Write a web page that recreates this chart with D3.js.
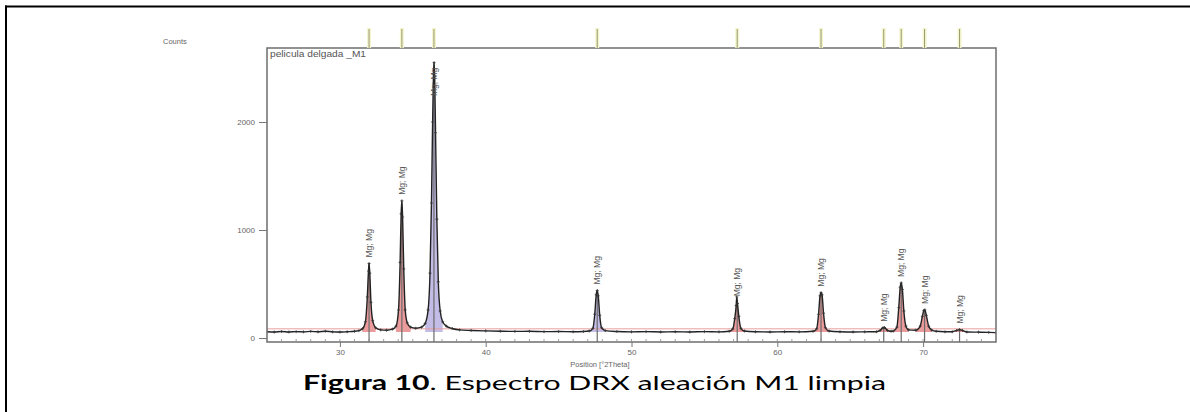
<!DOCTYPE html>
<html>
<head>
<meta charset="utf-8">
<script src="https://cdn.jsdelivr.net/npm/d3@7"></script>
<style>
  html, body { margin: 0; padding: 0; background: #fff; }
  svg { display: block; }
</style>
</head>
<body>
<svg id="chart" width="1190" height="412"></svg>
<script>
// ---------------- DATA ----------------
const profile = [
  [25.0,58],[25.5,55],[26.0,60],[26.5,56],[27.0,59],[27.5,57],[28.0,61],[28.5,58],[29.0,63],[29.5,57],
  [30.0,55],[30.5,58],[31.0,62],[31.3,68],[31.55,85],[31.75,150],[31.88,380],[31.96,620],[32.0,690],
  [32.05,600],[32.13,330],[32.25,160],[32.45,95],[32.8,75],[33.2,72],[33.6,82],[33.85,110],[34.02,260],
  [34.13,700],[34.2,1150],[34.25,1270],[34.3,1120],[34.38,640],[34.48,260],[34.62,140],[34.85,100],
  [35.2,90],[35.6,100],[35.85,135],[36.05,260],[36.18,600],[36.28,1250],[36.36,2000],[36.42,2450],
  [36.46,2550],[36.5,2420],[36.56,1900],[36.65,1100],[36.75,520],[36.88,250],[37.05,150],[37.3,110],
  [37.7,88],[38.2,75],[39.0,70],[40.0,66],[41.0,63],[42.0,61],[43.0,62],[44.0,59],[45.0,60],[46.0,58],
  [46.7,60],[47.1,65],[47.35,90],[47.48,220],[47.58,400],[47.65,440],[47.72,390],[47.82,210],[47.95,95],
  [48.2,68],[49.0,60],[50.0,57],[51.0,59],[52.0,56],[53.0,58],[54.0,56],[55.0,59],[56.0,57],[56.7,62],
  [56.95,85],[57.08,180],[57.18,300],[57.22,380],[57.27,320],[57.36,200],[57.5,90],[57.75,65],[58.5,58],
  [59.5,56],[60.5,58],[61.5,57],[62.45,62],[62.7,85],[62.83,220],[62.93,390],[63.0,420],[63.07,400],
  [63.17,230],[63.3,95],[63.55,65],[64.3,58],[65.2,56],[66.0,57],[66.8,58],[67.05,70],[67.25,95],
  [67.35,97],[67.55,70],[67.8,62],[67.95,64],[68.2,100],[68.33,280],[68.43,470],[68.5,510],[68.58,450],
  [68.68,250],[68.82,110],[69.0,75],[69.5,72],[69.8,110],[69.95,200],[70.05,255],[70.12,260],[70.22,210],
  [70.38,110],[70.6,72],[70.9,62],[71.5,58],[72.0,58],[72.3,70],[72.5,78],[72.7,70],[73.0,56],[73.8,54],
  [74.5,52],[75.0,50]
];
// Identified reflections
const peakPos    = [32.0, 34.25, 36.45, 47.65, 57.25, 63.0, 67.3, 68.5, 70.1, 72.5];
const peakHeight = [690, 1270, 2550, 440, 330, 420, 95, 510, 260, 78];
const peakLabel  = ["Mg; Mg","Mg; Mg","Mg; Mg","Mg; Mg","Mg; Mg","Mg; Mg","Mg; Mg","Mg; Mg","Mg; Mg","Mg; Mg"];
const peakPhase  = ["a","a","b","b","a","a","a","a","a","a"];
const backgroundLevel = 55;
const xTicks = [30, 40, 50, 60, 70];
const yTicks = [0, 1000, 2000];
const xDomain = [25, 75];
const yDomain = [-37, 2685];

// ---------------- LAYOUT ----------------
const svg = d3.select("#chart");
const L = 267, R = 996, T = 48, B = 342;
const x = d3.scaleLinear().domain(xDomain).range([L, R]);
const y = d3.scaleLinear().domain(yDomain).range([B, T]);
const txt = "#666";
const fontAx = "Arial, 'Liberation Sans', sans-serif";

// outer document frame (top and left visible)
svg.append("line").attr("x1", 5).attr("x2", 1190).attr("y1", 6.5).attr("y2", 6.5)
  .attr("stroke", "#000").attr("stroke-width", 2);
svg.append("line").attr("x1", 6).attr("x2", 6).attr("y1", 5.5).attr("y2", 412)
  .attr("stroke", "#000").attr("stroke-width", 2);

const clipId = "plotclip";
svg.append("defs").append("clipPath").attr("id", clipId)
  .append("rect").attr("x", L).attr("y", T).attr("width", R - L).attr("height", B - T);

const plot = svg.append("g").attr("clip-path", `url(#${clipId})`);

// peak fills
const phaseColor = d3.scaleOrdinal().domain(["a","b"]).range(["#e0585a", "#9a8fd6"]);
const area = d3.area().x(d => x(d[0])).y0(y(backgroundLevel)).y1(d => y(d[1])).curve(d3.curveMonotoneX);
peakPos.forEach((p, i) => {
  const lo = i > 0 ? (peakPos[i-1] + p) / 2 : p - 0.8;
  const hi = i < peakPos.length - 1 ? (peakPos[i+1] + p) / 2 : p + 0.8;
  const w = Math.min(0.6, p - lo, hi - p);
  const seg = profile.filter(d => d[0] >= p - w && d[0] <= p + w);
  plot.append("path").datum(seg).attr("d", area)
    .attr("fill", phaseColor(peakPhase[i])).attr("fill-opacity", 0.6).attr("stroke", "none");
});

// background line
plot.append("line").attr("x1", x(xDomain[0])).attr("x2", x(xDomain[1]))
  .attr("y1", y(backgroundLevel + 30)).attr("y2", y(backgroundLevel + 30))
  .attr("stroke", "#e6a0a0").attr("stroke-width", 1);

// reference sticks
plot.selectAll(".stick").data(peakPos).join("line").attr("class", "stick")
  .attr("x1", d => x(d)).attr("x2", d => x(d))
  .attr("y1", B).attr("y2", (d, i) => y(peakHeight[i]))
  .attr("stroke", "#6b6b6b").attr("stroke-width", 1.2);

// observed profile
const line = d3.line().x(d => x(d[0])).y(d => y(d[1])).curve(d3.curveMonotoneX);
plot.append("path").datum(profile).attr("d", line)
  .attr("fill", "none").attr("stroke", "#222").attr("stroke-width", 1.4);
plot.selectAll(".mk").data(profile).join("path").attr("class","mk")
  .attr("transform", d => `translate(${x(d[0])},${y(d[1])})`)
  .attr("d", "M-1.5,0H1.5M0,-1.5V1.5").attr("stroke", "#333").attr("stroke-width", 0.8);

// frame
svg.append("rect").attr("x", L).attr("y", T).attr("width", R - L).attr("height", B - T)
  .attr("fill", "none").attr("stroke", "#6e6e6e").attr("stroke-width", 1.5);

// x axis
const xAxis = d3.axisBottom(x).tickValues(xTicks).tickSize(5).tickPadding(2).tickFormat(d3.format("d"));
const gx = svg.append("g").attr("transform", `translate(0,${B})`).call(xAxis);
gx.select(".domain").remove();
gx.selectAll("line").attr("stroke", "#777");
gx.selectAll("text").attr("fill", txt).attr("font-size", 8).attr("font-family", fontAx);
const minorX = d3.range(xDomain[0] + 1, xDomain[1], 1);
svg.append("g").selectAll("line").data(minorX).join("line")
  .attr("x1", d => x(d)).attr("x2", d => x(d)).attr("y1", B).attr("y2", B - 3)
  .attr("stroke", "#888").attr("stroke-width", 0.8);

// y axis
const yAxis = d3.axisLeft(y).tickValues(yTicks).tickSize(8).tickPadding(4).tickFormat(d3.format("d"));
const gy = svg.append("g").attr("transform", `translate(${L},0)`).call(yAxis);
gy.select(".domain").remove();
gy.selectAll("line").attr("stroke", "#777");
gy.selectAll("text").attr("fill", txt).attr("font-size", 8).attr("font-family", fontAx);

// top reflection markers
const tm = svg.append("g");
tm.selectAll(".glow").data(peakPos).join("line").attr("class","glow")
  .attr("x1", d => x(d)).attr("x2", d => x(d)).attr("y1", 28).attr("y2", T)
  .attr("stroke", "#f3f5cc").attr("stroke-width", 4);
tm.selectAll(".mark").data(peakPos).join("line").attr("class","mark")
  .attr("x1", d => x(d)).attr("x2", d => x(d)).attr("y1", 29).attr("y2", T)
  .attr("stroke", "#9a9a74").attr("stroke-width", 1);

// peak labels (rotated)
svg.append("g").selectAll("text").data(peakPos).join("text")
  .attr("transform", (d, i) => {
    const yy = Math.max(y(peakHeight[i]) - 6, T + 48);
    return `translate(${x(d) + 3},${yy}) rotate(-90)`;
  })
  .attr("text-anchor", "start")
  .attr("font-size", 8.5).attr("font-family", fontAx).attr("fill", "#555")
  .text((d, i) => peakLabel[i]);

// texts
svg.append("text").attr("x", 163).attr("y", 44).attr("font-size", 7.5).attr("font-family", fontAx)
  .attr("fill", txt).text("Counts");
svg.append("text").attr("x", L + 3).attr("y", T + 9).attr("font-size", 9).attr("font-family", fontAx)
  .attr("fill", "#555").attr("textLength", 96).attr("lengthAdjust", "spacingAndGlyphs")
  .text("pelicula delgada _M1");
svg.append("text").attr("x", 600).attr("y", 367).attr("text-anchor", "middle")
  .attr("font-size", 7.5).attr("font-family", fontAx).attr("fill", txt).text("Position [°2Theta]");

// caption
const cap = svg.append("text").attr("x", 303).attr("y", 390).attr("text-anchor", "start")
  .attr("font-family", "Lato, 'Open Sans', sans-serif").attr("font-size", 20).attr("fill", "#000")
  .attr("textLength", 583).attr("lengthAdjust", "spacingAndGlyphs");
cap.append("tspan").attr("font-weight", "bold").text("Figura 10");
cap.append("tspan").text(". Espectro DRX aleación M1 limpia");
</script>
</body>
</html>
